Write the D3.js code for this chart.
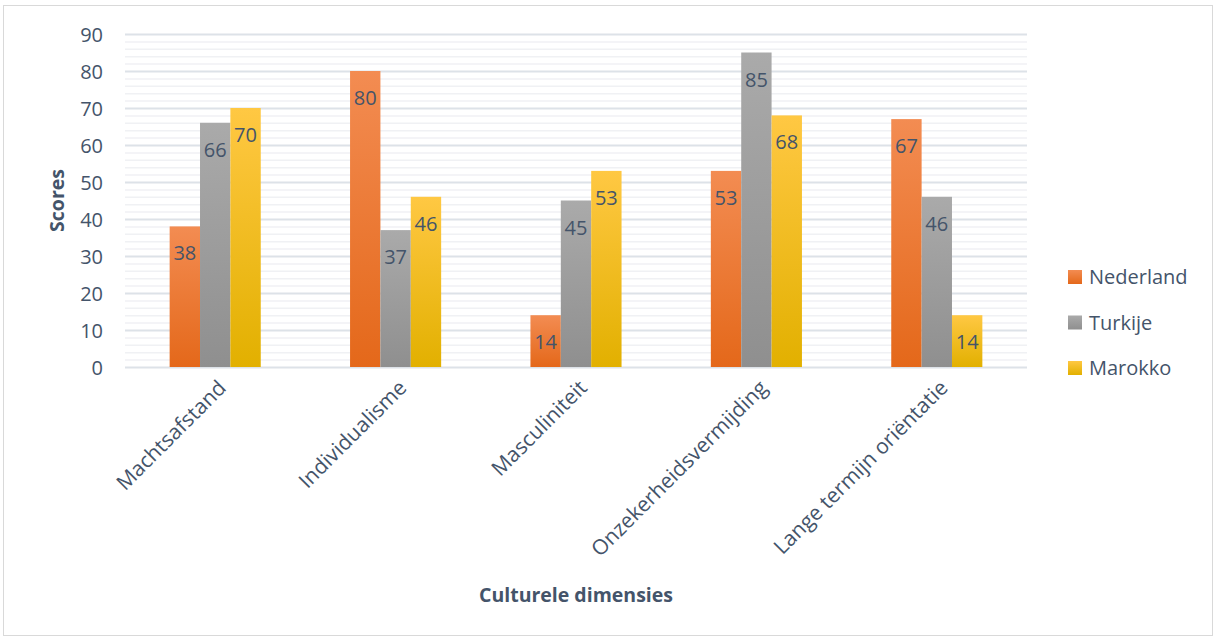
<!DOCTYPE html>
<html>
<head>
<meta charset="utf-8">
<script src="https://cdn.jsdelivr.net/npm/d3@7"></script>
<style>
  body { margin: 0; background: #fff; }
  svg text { font-family: "Open Sans", "Noto Sans", sans-serif; fill: #44546a; }
</style>
</head>
<body>
<div id="chart"></div>
<script>
// Data
var categories = ["Machtsafstand", "Individualisme", "Masculiniteit", "Onzekerheidsvermijding", "Lange termijn oriëntatie"];
var series = ["Nederland", "Turkije", "Marokko"];
var nederland = [38, 80, 14, 53, 67];
var turkije = [66, 37, 45, 85, 46];
var marokko = [70, 46, 53, 68, 14];
var yTicks = [0, 10, 20, 30, 40, 50, 60, 70, 80, 90];

var values = [nederland, turkije, marokko];
var colors = [
  { top: "#f38c52", bottom: "#e4681a" },
  { top: "#aaaaaa", bottom: "#8f8f8f" },
  { top: "#ffc843", bottom: "#e2b000" }
];

var w = 1213, h = 636;
var plotLeft = 125, plotRight = 1027, plotTop = 34, plotBottom = 367;

var svg = d3.select("#chart").append("svg")
  .attr("width", w)
  .attr("height", h);

// chart frame
svg.append("rect")
  .attr("x", 3.5).attr("y", 5.5)
  .attr("width", w - 4).attr("height", h - 6)
  .attr("fill", "none")
  .attr("stroke", "#d9d9d9");

var defs = svg.append("defs");
colors.forEach(function (c, i) {
  var g = defs.append("linearGradient")
    .attr("id", "grad" + i)
    .attr("x1", 0).attr("y1", 0).attr("x2", 0).attr("y2", 1);
  g.append("stop").attr("offset", "0%").attr("stop-color", c.top);
  g.append("stop").attr("offset", "100%").attr("stop-color", c.bottom);
});

var x0 = d3.scaleBand()
  .domain(categories)
  .range([plotLeft, plotRight])
  .paddingInner(0.495)
  .paddingOuter(0.2475);

var x1 = d3.scaleBand()
  .domain(series)
  .range([0, x0.bandwidth()]);

var y = d3.scaleLinear()
  .domain([0, 90])
  .range([plotBottom, plotTop]);

// minor gridlines every 2
svg.append("g")
  .selectAll("line")
  .data(d3.range(0, 91, 2).filter(function (d) { return d % 10 !== 0; }))
  .enter().append("line")
  .attr("x1", plotLeft).attr("x2", plotRight)
  .attr("y1", function (d) { return y(d) + 0.5; })
  .attr("y2", function (d) { return y(d) + 0.5; })
  .attr("stroke", "#f0f1f4")
  .attr("stroke-width", 1.5);

// major gridlines
svg.append("g")
  .selectAll("line")
  .data(yTicks)
  .enter().append("line")
  .attr("x1", plotLeft).attr("x2", plotRight)
  .attr("y1", function (d) { return y(d) + 0.5; })
  .attr("y2", function (d) { return y(d) + 0.5; })
  .attr("stroke", "#dde2e8")
  .attr("stroke-width", 2);

// y axis labels
var yAxis = d3.axisLeft(y).tickValues(yTicks).tickSize(0).tickPadding(22);
var ya = svg.append("g")
  .attr("transform", "translate(" + plotLeft + ",0)")
  .call(yAxis);
ya.select(".domain").remove();
ya.selectAll("text").style("font-size", "20px").attr("dy", "0.35em");

// bars
var groups = svg.append("g")
  .selectAll("g")
  .data(categories)
  .enter().append("g")
  .attr("transform", function (d) { return "translate(" + x0(d) + ",0)"; });

function rows(d, ci) {
  return series.map(function (s, si) { return { s: s, si: si, v: values[si][ci] }; });
}

groups.selectAll("rect")
  .data(rows)
  .enter().append("rect")
  .attr("x", function (d) { return x1(d.s); })
  .attr("y", function (d) { return y(d.v); })
  .attr("width", x1.bandwidth())
  .attr("height", function (d) { return y(0) - y(d.v); })
  .attr("fill", function (d) { return "url(#grad" + d.si + ")"; });

groups.selectAll("text.val")
  .data(rows)
  .enter().append("text")
  .attr("class", "val")
  .attr("x", function (d) { return x1(d.s) + x1.bandwidth() / 2; })
  .attr("y", function (d) { return y(d.v) + 27; })
  .attr("dy", "0.35em")
  .attr("text-anchor", "middle")
  .style("font-size", "20px")
  .text(function (d) { return d.v; });

// x axis labels
var xAxis = d3.axisBottom(x0).tickSize(0).tickPadding(0);
var xa = svg.append("g")
  .attr("transform", "translate(0," + plotBottom + ")")
  .call(xAxis);
xa.select(".domain").remove();
xa.selectAll("text")
  .style("font-size", "21px")
  .attr("text-anchor", "end")
  .attr("transform", "translate(7,17) rotate(-45)")
  .attr("x", 0).attr("y", 0).attr("dy", "0.35em");

// axis titles
svg.append("text")
  .attr("transform", "translate(57," + (plotTop + plotBottom) / 2 + ") rotate(-90)")
  .attr("text-anchor", "middle")
  .attr("dy", "0.35em")
  .style("font-size", "19.5px")
  .style("font-weight", "bold")
  .text("Scores");

svg.append("text")
  .attr("x", (plotLeft + plotRight) / 2)
  .attr("y", 595)
  .attr("text-anchor", "middle")
  .attr("dy", "0.35em")
  .style("font-size", "19.5px")
  .style("font-weight", "bold")
  .text("Culturele dimensies");

// legend
var legend = svg.append("g")
  .selectAll("g")
  .data(series)
  .enter().append("g")
  .attr("transform", function (d, i) { return "translate(1068," + (277 + i * 45.5) + ")"; });

legend.append("rect")
  .attr("x", 0).attr("y", -7)
  .attr("width", 14).attr("height", 14)
  .attr("fill", function (d, i) { return "url(#grad" + i + ")"; });

legend.append("text")
  .attr("x", 21)
  .attr("dy", "0.35em")
  .style("font-size", "20px")
  .text(function (d) { return d; });
</script>
</body>
</html>
